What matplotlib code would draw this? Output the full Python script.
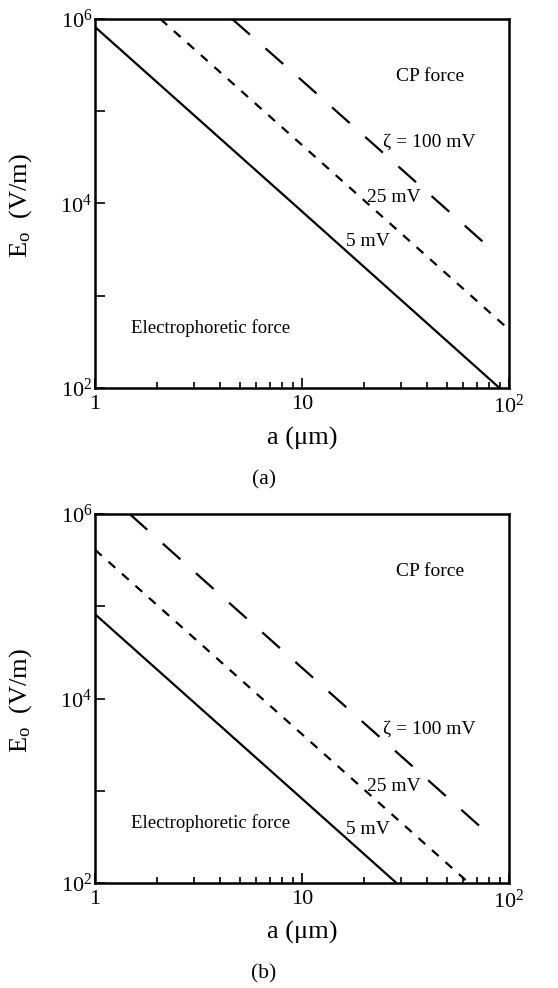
import matplotlib
matplotlib.use("Agg")
import matplotlib.pyplot as plt
from matplotlib.ticker import FixedLocator, FixedFormatter, NullFormatter
import numpy as np

plt.rcParams['font.family'] = ['Liberation Serif', 'DejaVu Serif']
plt.rcParams['mathtext.fontset'] = 'custom'
plt.rcParams['mathtext.rm'] = 'Liberation Serif'
plt.rcParams['mathtext.it'] = 'Liberation Serif:italic'
plt.rcParams['lines.scale_dashes'] = False

# ---- data (a in micrometres, E in V/m) ----
# panel (a)
a_5_a = [1.0, 10.0, 90.0]
E_5_a = [8.2e5, 8.2e3, 1.0e2]
a_25_a = [2.07, 10.0, 100.0]
E_25_a = [1.0e6, 4.3e4, 4.3e2]
a_100_a = [4.6, 10.0, 84.0]
E_100_a = [1.0e6, 2.15e5, 3.05e3]
# panel (b)
a_5_b = [1.0, 10.0, 28.6]
E_5_b = [8.2e4, 8.2e2, 1.0e2]
a_25_b = [1.0, 10.0, 64.0]
E_25_b = [4.1e5, 4.1e3, 1.0e2]
a_100_b = [1.47, 10.0, 84.0]
E_100_b = [1.0e6, 2.15e4, 3.05e2]

xticks = [1, 10, 100]
xticklabels = ['1', '10', r'$10^{2}$']
yticks = [1e2, 1e3, 1e4, 1e5, 1e6]
yticklabels = [r'$10^{2}$', '', r'$10^{4}$', '', r'$10^{6}$']
xminor = [2, 3, 4, 5, 6, 7, 8, 9, 20, 30, 40, 50, 60, 70, 80, 90]

labels_zeta = ['ζ = 100 mV', '25 mV', '5 mV']

W, H = 558, 988
fig = plt.figure(figsize=(W / 100, H / 100), dpi=100)

panels = [
    dict(bottom=388, top=19, data=[(a_5_a, E_5_a), (a_25_a, E_25_a), (a_100_a, E_100_a)],
         ytxt=[0.667, 0.515, 0.396], cap='(a)', capy=480, xlab_y=438, ylab_y=206),
    dict(bottom=883, top=514, data=[(a_5_b, E_5_b), (a_25_b, E_25_b), (a_100_b, E_100_b)],
         ytxt=[0.417, 0.261, 0.144], cap='(b)', capy=974, xlab_y=932, ylab_y=701),
]

left, right = 95, 509
styles = [dict(linestyle='-'),
          dict(linestyle=(0, (6.5, 6.5))),
          dict(linestyle=(0, (17, 15)))]

for p in panels:
    ax = fig.add_axes([left / W, 1 - p['bottom'] / H, (right - left) / W, (p['bottom'] - p['top']) / H])
    ax.set_xscale('log')
    ax.set_yscale('log')
    ax.set_xlim(1, 100)
    ax.set_ylim(1e2, 1e6)
    for (xa, ya), st in zip(p['data'], styles):
        ax.plot(xa, ya, color='black', lw=1.6, solid_capstyle='butt', dash_capstyle='butt', **st)
    ax.xaxis.set_major_locator(FixedLocator(xticks))
    ax.xaxis.set_major_formatter(FixedFormatter(xticklabels))
    ax.xaxis.set_minor_locator(FixedLocator(xminor))
    ax.xaxis.set_minor_formatter(NullFormatter())
    ax.yaxis.set_major_locator(FixedLocator(yticks))
    ax.yaxis.set_major_formatter(FixedFormatter(yticklabels))
    ax.yaxis.set_minor_locator(FixedLocator([]))
    ax.tick_params(which='both', direction='in', top=False, right=False, width=1.2, labelsize=16)
    ax.tick_params(axis='x', which='major', length=7.5, pad=5)
    ax.tick_params(axis='x', which='minor', length=4.5)
    ax.tick_params(axis='y', which='major', length=7.5, pad=2)
    for s in ax.spines.values():
        s.set_linewidth(1.8)

    ax.text(0.809, 0.843, 'CP force', transform=ax.transAxes, ha='center', va='center', fontsize=14)
    xs = [0.808, 0.722, 0.659]
    for lab, xx, yy in zip(labels_zeta, xs, p['ytxt']):
        ax.text(xx, yy, lab, transform=ax.transAxes, ha='center', va='center', fontsize=14)
    ax.text(0.279, 0.163, 'Electrophoretic force', transform=ax.transAxes, ha='center', va='center', fontsize=13.5)

    fig.text(302 / W, 1 - p['xlab_y'] / H, 'a (μm)', ha='center', va='center', fontsize=19)
    fig.text(21 / W, 1 - p['ylab_y'] / H, r'E$_{\mathrm{o}}$  (V/m)', ha='center', va='center',
             rotation=90, fontsize=19)
    fig.text(264 / W, 1 - p['capy'] / H, p['cap'], ha='center', va='center', fontsize=15.5)

fig.savefig('out.png', dpi=100)
